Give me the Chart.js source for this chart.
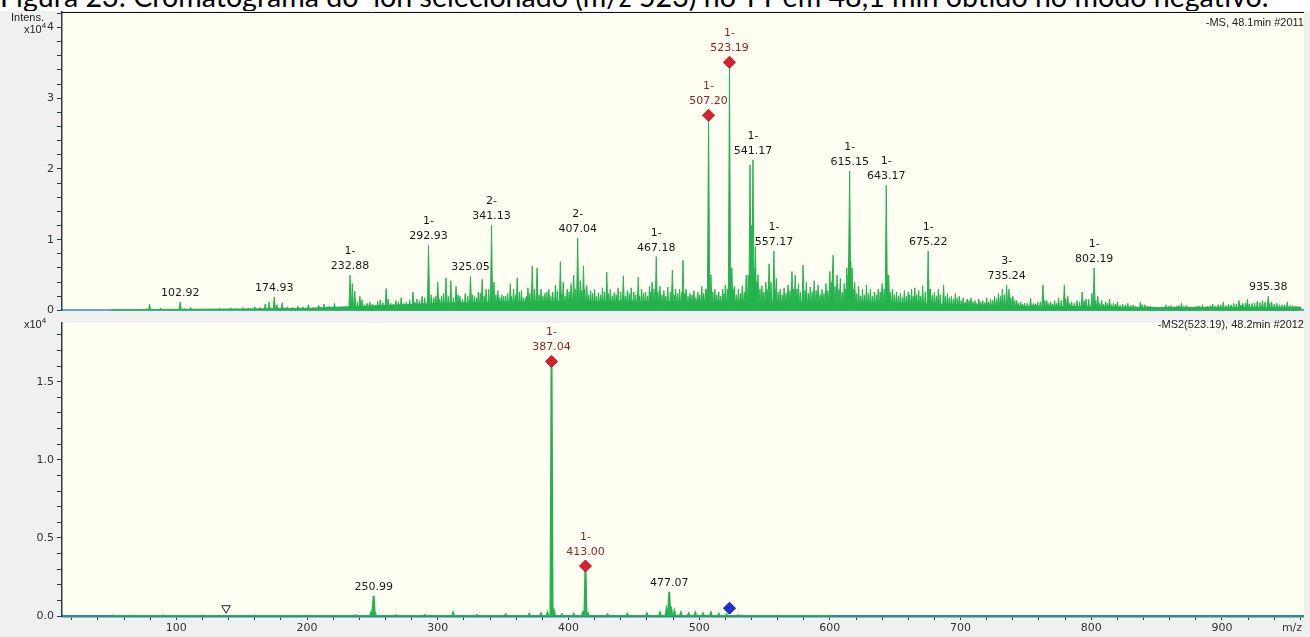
<!DOCTYPE html>
<html>
<head>
<meta charset="utf-8">
<script src="https://cdn.jsdelivr.net/npm/chart.js@4.4.1/dist/chart.umd.min.js"></script>
<style>
html, body { margin: 0; padding: 0; background: #fff; width: 1310px; height: 637px; overflow: hidden; }
#title { position: absolute; left: 0; top: -19px; font-family: Lato, 'Open Sans', sans-serif; font-size: 28.6px; line-height: 30px; white-space: nowrap; color: #000; z-index: 0; }
#bg { position: absolute; left: 0; top: 11px; width: 1310px; height: 626px; background: #f0f0f0; z-index: 1; }
canvas { position: absolute; left: 0; }
#msChart { top: 0; z-index: 2; }
#ms2Chart { top: 316px; z-index: 3; background: #f0f0f0; }
.note { position: absolute; font-family: 'Liberation Sans', sans-serif; font-size: 11px; color: #222; white-space: nowrap; z-index: 5; }
.note sup { font-size: 8px; }
</style>
</head>
<body>
<div id="title">Figura 23: Cromatograma do&nbsp; íon selecionado (m/z 523) no TT em 48,1 min obtido no modo negativo.</div>
<div id="bg"></div>
<canvas id="msChart" width="1310" height="320"></canvas>
<canvas id="ms2Chart" width="1310" height="321"></canvas>
<div class="note" style="left:11px;top:11px;">Intens.</div>
<div class="note" style="left:24px;top:21px;">x10<sup>4</sup></div>
<div class="note" style="left:24px;top:316px;">x10<sup>4</sup></div>
<div class="note" style="right:6px;top:16px;">-MS, 48.1min #2011</div>
<div class="note" style="right:6px;top:318px;">-MS2(523.19), 48.2min #2012</div>
<script>
// m/z axis range shared by both panels
const mzMin = 12.5;
const mzMax = 962;

// ---- MS (top panel), intensities in x10^4 ----
const msMz = [
  52, 58, 63, 71, 79.5, 84, 88, 95, 102.92, 106, 111, 115, 121, 128, 133, 137, 142, 146, 151, 155,
  160, 164, 168, 171, 174.93, 177, 181, 185, 189, 193, 197, 201, 205, 209, 213, 217, 221, 225, 229,
  232.88, 234.6, 236.5, 240.4, 244, 248, 252, 256, 260.5, 264, 268, 272, 276, 281, 284, 288,
  292.93, 295, 297, 300, 303, 306.3, 310, 314, 317, 321, 325.05, 328, 331, 334, 337, 341.13, 343,
  346, 349, 352, 355.5, 358, 360.8, 364, 367, 369, 372.3, 374, 376, 379, 382, 385, 388, 390, 393.8,
  396, 399, 402, 404, 407.04, 409, 411.5, 414, 417, 420, 423, 426, 429.3, 432, 435, 438, 442, 445,
  448, 450, 453.4, 456, 459, 462, 464, 467.18, 470, 473, 476, 479.5, 482, 485, 487.6, 490, 493, 496,
  499, 502, 505, 507.20, 509, 512, 515, 518, 520, 523.19, 525, 527, 530, 533, 536, 538.9, 540, 541.17,
  543, 545, 548, 551, 553.5, 557.17, 559, 562, 565, 568, 571, 573.5, 576, 579.5, 582, 585, 588, 591,
  594, 597, 600, 602.5, 605.5, 608, 611, 613, 615.15, 617, 619, 622, 625, 628, 631, 634, 637, 640,
  643.17, 645, 648, 651, 654, 657, 660, 662.5, 665, 668, 671, 675.22, 677, 680, 683, 687, 690, 693,
  696, 699, 702, 705, 708, 711, 714, 717, 720, 723, 726, 729, 732, 735.24, 737, 740, 743, 746, 749,
  753.6, 756, 759, 763, 766, 769, 772, 775, 779.4, 782, 785, 789, 793, 796, 802.19, 805, 808, 811,
  814, 817, 820, 824, 828, 832, 837.6, 841, 845, 849, 853, 857, 861, 865, 869, 873, 877, 881, 885,
  889, 893, 897, 901, 905, 909, 913, 916, 919.5, 923, 927, 931, 935.38, 938, 942, 946, 950, 954, 958
];
const msInt = [
  0.02, 0.01, 0.02, 0.015, 0.09, 0.02, 0.035, 0.02, 0.12, 0.03, 0.04, 0.02, 0.015, 0.02, 0.03, 0.02, 0.035, 0.025, 0.04, 0.03,
  0.05, 0.04, 0.09, 0.12, 0.19, 0.08, 0.11, 0.05, 0.04, 0.06, 0.05, 0.08, 0.04, 0.07, 0.09, 0.06, 0.1, 0.05, 0.04,
  0.5, 0.38, 0.27, 0.2, 0.08, 0.12, 0.07, 0.15, 0.31, 0.1, 0.14, 0.18, 0.12, 0.26, 0.16, 0.2,
  0.92, 0.22, 0.18, 0.4, 0.2, 0.46, 0.42, 0.34, 0.2, 0.24, 0.48, 0.2, 0.26, 0.44, 0.3, 1.2, 0.4,
  0.28, 0.22, 0.2, 0.38, 0.3, 0.46, 0.28, 0.18, 0.32, 0.63, 0.3, 0.6, 0.3, 0.24, 0.3, 0.26, 0.36, 0.69,
  0.4, 0.3, 0.38, 0.5, 1.02, 0.42, 0.63, 0.35, 0.28, 0.3, 0.25, 0.32, 0.54, 0.3, 0.25, 0.32, 0.49, 0.28,
  0.32, 0.26, 0.47, 0.3, 0.26, 0.34, 0.4, 0.76, 0.34, 0.28, 0.33, 0.57, 0.3, 0.3, 0.71, 0.3, 0.24, 0.28,
  0.26, 0.34, 0.3, 2.76, 0.5, 0.3, 0.26, 0.3, 0.36, 3.51, 0.6, 0.34, 0.3, 0.35, 0.5, 2.06, 1.2, 2.13,
  0.9, 0.5, 0.35, 0.4, 0.66, 0.84, 0.45, 0.3, 0.32, 0.36, 0.55, 0.5, 0.38, 0.64, 0.4, 0.33, 0.42, 0.36,
  0.3, 0.38, 0.55, 0.78, 0.5, 0.45, 0.38, 0.6, 1.97, 0.6, 0.4, 0.34, 0.3, 0.36, 0.3, 0.26, 0.3, 0.38,
  1.77, 0.5, 0.3, 0.26, 0.24, 0.28, 0.26, 0.3, 0.32, 0.28, 0.35, 0.84, 0.3, 0.26, 0.3, 0.36, 0.24, 0.2,
  0.24, 0.2, 0.18, 0.16, 0.18, 0.14, 0.16, 0.14, 0.18, 0.16, 0.2, 0.24, 0.3, 0.36, 0.3, 0.2, 0.14, 0.12, 0.1,
  0.17, 0.1, 0.12, 0.36, 0.14, 0.12, 0.14, 0.18, 0.36, 0.2, 0.12, 0.14, 0.26, 0.16, 0.6, 0.2, 0.14, 0.12,
  0.16, 0.1, 0.12, 0.09, 0.1, 0.08, 0.12, 0.08, 0.06, 0.05, 0.04, 0.08, 0.07, 0.06, 0.1, 0.07, 0.05, 0.06, 0.08,
  0.06, 0.09, 0.08, 0.12, 0.09, 0.1, 0.14, 0.1, 0.16, 0.1, 0.13, 0.14, 0.2, 0.12, 0.1, 0.08, 0.12, 0.07, 0.06
];
// small in-between peaks that make the dense "grass"
const msMinorMz = [
  238.5, 242, 246, 250, 254, 258, 262, 266, 270, 274, 278.5, 282.5, 286, 290, 298.5, 301.5, 304.5, 308, 312, 315.5,
  319, 323, 326.5, 329.5, 332.5, 335.5, 339, 344.5, 347.5, 350.5, 353.5, 356.5, 359.5, 362.5, 365.5, 368, 370.5, 377.5, 380.5, 383.5,
  386.5, 391.5, 395, 397.5, 400.5, 405.5, 410, 412.5, 415.5, 418.5, 421.5, 424.5, 427.5, 430.5, 433.5, 436.5, 440, 443.5, 446.5, 451.5,
  454.5, 457.5, 460.5, 463, 465.5, 468.5, 471.5, 474.5, 478, 481, 483.5, 486.5, 488.8, 491.5, 494.5, 497.5, 500.5, 503.5, 506, 510.5,
  513.5, 516.5, 519, 521.5, 524, 526, 528.5, 531.5, 534.5, 537.5, 542, 544, 546.5, 549.5, 552, 555, 558, 560.5, 563.5, 566.5,
  569.5, 572.3, 574.8, 577.5, 581, 583.5, 586.5, 589.5, 592.5, 595.5, 598.5, 601.3, 604, 607, 609.5, 612, 614, 616, 618, 620.5,
  623.5, 626.5, 629.5, 632.5, 635.5, 638.5, 641.5, 644, 646.5, 649.5, 652.5, 655.5, 658.5, 661, 663.8, 666.5, 669.5, 673, 676, 678.5,
  681.5, 684.5, 688.5, 691.5, 694.5, 697.5, 700.5, 703.5, 706.5, 709.5, 712.5, 715.5, 718.5, 721.5, 724.5, 727.5, 730.5, 733.5, 738.5, 741.5,
  744.5, 747.5, 751, 755, 757.5, 761, 764.5, 767.5, 770.5, 773.5, 777, 780.5, 783.5, 787, 791, 794.5, 798, 800.5, 803.5, 806.5,
  809.5, 812.5, 815.5, 818.5, 822, 826, 830, 834, 839, 843, 847, 851, 855, 859, 863, 867, 871, 875, 879, 883,
  887, 891, 895, 899, 903, 907, 911, 914.5, 918, 921, 925, 929, 933, 936.5, 940, 944, 948, 952, 956, 960
];
const msMinorInt = [
  0.12, 0.15, 0.1, 0.09, 0.13, 0.11, 0.16, 0.09, 0.12, 0.1, 0.15, 0.12, 0.14, 0.18, 0.2, 0.16, 0.24, 0.2, 0.18, 0.22,
  0.16, 0.2, 0.22, 0.18, 0.24, 0.2, 0.3, 0.22, 0.18, 0.2, 0.24, 0.2, 0.22, 0.26, 0.18, 0.2, 0.24, 0.22, 0.2, 0.26,
  0.2, 0.28, 0.24, 0.2, 0.26, 0.3, 0.28, 0.3, 0.22, 0.24, 0.2, 0.22, 0.26, 0.24, 0.2, 0.22, 0.26, 0.2, 0.24, 0.22,
  0.2, 0.24, 0.2, 0.26, 0.3, 0.26, 0.22, 0.2, 0.26, 0.22, 0.24, 0.26, 0.24, 0.2, 0.22, 0.18, 0.22, 0.24, 0.3, 0.26,
  0.22, 0.2, 0.24, 0.3, 0.4, 0.3, 0.22, 0.24, 0.26, 0.5, 0.6, 0.4, 0.3, 0.26, 0.3, 0.4, 0.3, 0.26, 0.22, 0.24,
  0.28, 0.3, 0.3, 0.26, 0.28, 0.24, 0.26, 0.28, 0.22, 0.24, 0.28, 0.4, 0.34, 0.3, 0.26, 0.3, 0.5, 0.7, 0.3, 0.24,
  0.2, 0.22, 0.24, 0.2, 0.22, 0.26, 0.3, 0.5, 0.26, 0.22, 0.2, 0.18, 0.2, 0.22, 0.2, 0.22, 0.2, 0.26, 0.3, 0.22,
  0.2, 0.22, 0.2, 0.18, 0.16, 0.18, 0.14, 0.12, 0.14, 0.12, 0.1, 0.12, 0.11, 0.12, 0.14, 0.16, 0.2, 0.22, 0.18, 0.14,
  0.1, 0.09, 0.1, 0.08, 0.09, 0.12, 0.14, 0.1, 0.09, 0.1, 0.14, 0.16, 0.1, 0.1, 0.12, 0.14, 0.16, 0.24, 0.14, 0.1,
  0.09, 0.1, 0.08, 0.09, 0.07, 0.08, 0.07, 0.06, 0.08, 0.06, 0.05, 0.04, 0.05, 0.06, 0.05, 0.07, 0.06, 0.05, 0.05, 0.06,
  0.05, 0.07, 0.06, 0.08, 0.07, 0.08, 0.09, 0.08, 0.1, 0.09, 0.1, 0.11, 0.12, 0.1, 0.09, 0.08, 0.08, 0.07, 0.06, 0.05
];
// dense baseline band under the MS peaks
const msFloorMz = [50, 100, 150, 200, 230, 260, 300, 350, 400, 450, 500, 550, 600, 650, 700, 750, 800, 850, 900, 960];
const msFloorInt = [0.01, 0.015, 0.02, 0.03, 0.05, 0.07, 0.1, 0.12, 0.13, 0.13, 0.13, 0.12, 0.11, 0.1, 0.08, 0.06, 0.05, 0.04, 0.04, 0.04];
// annotated MS peaks
const msLabelMz = [102.92, 174.93, 232.88, 292.93, 325.05, 341.13, 407.04, 467.18, 507.20, 523.19, 541.17, 557.17, 615.15, 643.17, 675.22, 735.24, 802.19, 935.38];
const msLabelCharge = ['', '', '1-', '1-', '', '2-', '2-', '1-', '1-', '1-', '1-', '1-', '1-', '1-', '1-', '3-', '1-', ''];
const msMarked = [507.20, 523.19];

// ---- MS2 of 523.19 (bottom panel) ----
const ms2Mz = [52, 66, 90, 120, 160, 200, 237, 249, 250.99, 252, 268, 290, 311.8, 330, 352, 370, 379, 384, 387.04, 389,
  395, 404, 411, 413.00, 415, 430, 445, 460, 470, 475, 477.07, 478.5, 481, 486, 492, 497, 503, 509, 515, 521, 530, 560, 600];
const ms2Int = [0.004, 0.003, 0.004, 0.003, 0.004, 0.003, 0.005, 0.02, 0.13, 0.02, 0.005, 0.006, 0.02, 0.006, 0.01, 0.012, 0.015, 0.02, 1.63, 0.03,
  0.01, 0.012, 0.02, 0.32, 0.015, 0.01, 0.012, 0.015, 0.02, 0.04, 0.155, 0.06, 0.03, 0.02, 0.015, 0.02, 0.015, 0.02, 0.012, 0.01, 0.005, 0.003, 0.003];
const ms2LabelMz = [250.99, 387.04, 413.00, 477.07];
const ms2LabelCharge = ['', '1-', '1-', ''];
const ms2Marked = [387.04, 413.00];
const precursorMz = 523.19;
const precursorInt = 0.05;
const isolationMz = 138;

const green = '#25b34d';
const cream = '#fffff4';
const axisDark = '#23404c';

function sticks(mz, inten, w) {
  const pts = [];
  mz.map((m, i) => [m, inten[i]]).sort((a, b) => a[0] - b[0]).forEach(([m, v]) => {
    pts.push({x: m - w, y: 0}, {x: m, y: v}, {x: m + w, y: 0});
  });
  return pts;
}

function pairs(mz, inten) {
  return mz.map((m, i) => ({x: m, y: inten[i]}));
}

function labelPlugin(mz, inten, labels, charges, marked) {
  return {
    id: 'peakLabels',
    afterDatasetsDraw(chart) {
      const {ctx, scales} = chart;
      ctx.save();
      ctx.font = '11px "DejaVu Sans"';
      ctx.textAlign = 'center';
      ctx.textBaseline = 'middle';
      labels.forEach((m, i) => {
        const v = inten[mz.indexOf(m)];
        const x = scales.x.getPixelForValue(m);
        const y = scales.y.getPixelForValue(v);
        const red = marked.includes(m);
        const off = red ? 14 : 9;
        ctx.fillStyle = red ? '#8c2424' : '#1a1a1a';
        ctx.fillText(m.toFixed(2), x, y - off);
        if (charges[i]) ctx.fillText(charges[i], x, y - off - 15);
      });
      ctx.restore();
    }
  };
}

const panelBg = {
  id: 'panelBg',
  beforeDraw(chart) {
    const {ctx, chartArea: a} = chart;
    ctx.save();
    ctx.fillStyle = cream;
    ctx.fillRect(a.left, a.top, a.right - a.left + 1, a.bottom - a.top);
    ctx.restore();
  }
};

const topFrame = {
  id: 'topFrame',
  afterDraw(chart) {
    const {ctx, chartArea: a} = chart;
    ctx.save();
    ctx.strokeStyle = '#111';
    ctx.lineWidth = 1;
    ctx.beginPath();
    ctx.moveTo(a.left, a.top + 0.5);
    ctx.lineTo(a.right + 1, a.top + 0.5);
    ctx.stroke();
    ctx.restore();
  }
};

const mzTitle = {
  id: 'mzTitle',
  afterDraw(chart) {
    const {ctx, chartArea: a} = chart;
    ctx.save();
    ctx.font = '11px "DejaVu Sans"';
    ctx.fillStyle = '#333';
    ctx.textAlign = 'center';
    ctx.textBaseline = 'middle';
    ctx.fillText('m/z', a.right - 11, a.bottom + 12);
    ctx.restore();
  }
};

function yAxis(max, step, major, digits) {
  const isMajor = v => Math.abs(v / major - Math.round(v / major)) < 1e-6;
  return {
    min: 0, max: max,
    ticks: {
      stepSize: step, includeBounds: false, autoSkip: false, padding: 3, color: '#333',
      // tiny font on unlabeled ticks keeps Chart.js from padding the plot area for them
      font: c => ({family: 'DejaVu Sans', size: c.tick && isMajor(c.tick.value) ? 11 : 1}),
      callback: v => (isMajor(v) ? v.toFixed(digits) : '')
    },
    grid: {drawOnChartArea: false, tickLength: 5, tickColor: axisDark, tickWidth: 1},
    border: {color: axisDark, width: 1.5},
    afterFit(s) { s.width = 62; }
  };
}

const common = {
  animation: false, responsive: false, maintainAspectRatio: false, events: [],
  plugins: {legend: {display: false}, tooltip: {enabled: false}}
};

new Chart(document.getElementById('msChart'), {
  type: 'line',
  data: {
    datasets: [
      {type: 'scatter', order: 0, data: msMarked.map(m => ({x: m, y: msInt[msMz.indexOf(m)]})),
        pointStyle: 'rectRot', pointRadius: 6, backgroundColor: '#d42231', borderColor: '#b51825', borderWidth: 1},
      {order: 1, data: sticks(msMz, msInt, 0.9), borderColor: green, backgroundColor: green, borderWidth: 1,
        fill: 'origin', pointRadius: 0, tension: 0},
      {order: 2, data: sticks(msMinorMz, msMinorInt, 0.8), borderColor: green, backgroundColor: green, borderWidth: 1,
        fill: 'origin', pointRadius: 0, tension: 0},
      {order: 3, data: pairs(msFloorMz, msFloorInt), borderColor: green, backgroundColor: green, borderWidth: 1,
        fill: 'origin', pointRadius: 0, tension: 0}
    ]
  },
  options: {
    ...common,
    layout: {padding: {top: 12, bottom: 5, right: 1, left: 0}},
    scales: {
      x: {type: 'linear', min: mzMin, max: mzMax, ticks: {display: false}, grid: {display: false},
        border: {color: '#64adc8', width: 2}, afterFit(s) { s.height = 2; }},
      y: yAxis(4.22, 0.2, 1, 0)
    }
  },
  plugins: [panelBg, topFrame, labelPlugin(msMz, msInt, msLabelMz, msLabelCharge, msMarked)]
});

new Chart(document.getElementById('ms2Chart'), {
  type: 'line',
  data: {
    datasets: [
      {type: 'scatter', order: 0, data: ms2Marked.map(m => ({x: m, y: ms2Int[ms2Mz.indexOf(m)]})),
        pointStyle: 'rectRot', pointRadius: 6, backgroundColor: '#d42231', borderColor: '#b51825', borderWidth: 1},
      {type: 'scatter', order: 0, data: [{x: precursorMz, y: precursorInt}],
        pointStyle: 'rectRot', pointRadius: 6, backgroundColor: '#1b2ed8', borderColor: '#1020b0', borderWidth: 1},
      {type: 'scatter', order: 0, data: [{x: isolationMz, y: precursorInt}],
        pointStyle: 'triangle', rotation: 180, pointRadius: 5, backgroundColor: '#fff', borderColor: '#222', borderWidth: 1},
      {order: 1, data: sticks(ms2Mz, ms2Int, 0.8), borderColor: green, backgroundColor: green, borderWidth: 2,
        fill: 'origin', pointRadius: 0, tension: 0}
    ]
  },
  options: {
    ...common,
    layout: {padding: {top: 1, bottom: 0, right: 1, left: 0}},
    scales: {
      x: {type: 'linear', min: mzMin, max: mzMax,
        ticks: {stepSize: 20, autoSkip: false, includeBounds: false, maxRotation: 0, padding: 2,
          color: '#333', font: {family: 'DejaVu Sans', size: 11},
          callback: v => (Math.round(v) % 100 === 0 ? String(Math.round(v)) : '')},
        grid: {drawOnChartArea: false, tickLength: 4, tickColor: axisDark},
        border: {color: '#2e8f8c', width: 2.5},
        afterFit(s) { s.height = 21; }},
      y: yAxis(1.876, 0.1, 0.5, 1)
    }
  },
  plugins: [panelBg, mzTitle, labelPlugin(ms2Mz, ms2Int, ms2LabelMz, ms2LabelCharge, ms2Marked)]
});
</script>
</body>
</html>
